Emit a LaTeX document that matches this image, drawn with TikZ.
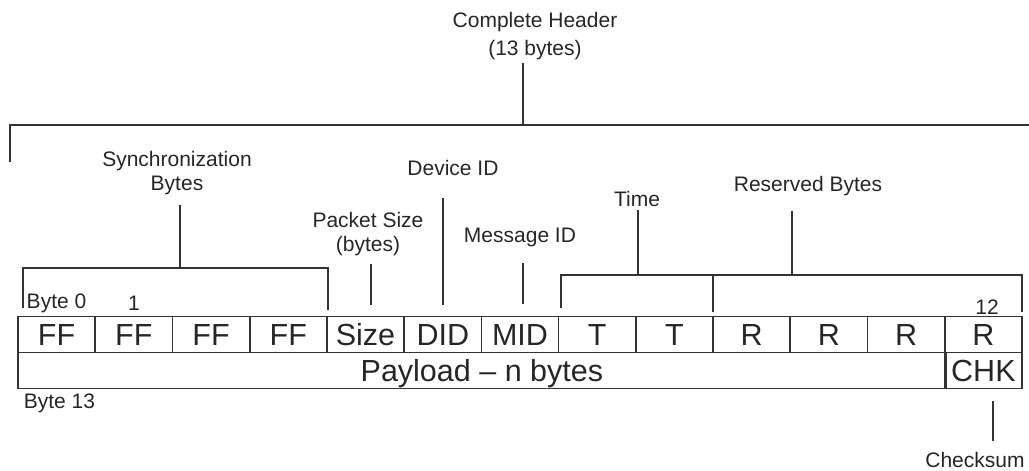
\documentclass[tikz,border=0pt]{standalone}
\usepackage{fontspec}
\setmainfont{Liberation Sans}
\begin{document}
\begin{tikzpicture}[x=1pt,y=-1pt,line width=1.5pt,draw=black!80,
  every node/.style={text=black!85},
  cell/.style={rectangle,draw,line width=1.6pt,minimum width=77.23pt,minimum height=36pt,inner sep=0pt,text height=21.5pt,text depth=0pt,font=\fontsize{30.5}{32}\selectfont},
  lbl/.style={align=center,inner sep=2pt,font=\fontsize{21}{24}\selectfont}]
  \useasboundingbox (0,0) rectangle (1029,471);
  % draw header row
  \node at(56.6,334.5)[cell](c0){FF};
  \node at(133.85,334.5)[cell](c1){FF};
  \node at(211.1,334.5)[cell](c2){FF};
  \node at(288.3,334.5)[cell](c3){FF};
  \node at(365.5,334.5)[cell](c4){Size};
  \node at(442.8,334.5)[cell](c5){DID};
  \node at(520.0,334.5)[cell](c6){MID};
  \node at(597.2,334.5)[cell](c7){T};
  \node at(674.5,334.5)[cell](c8){T};
  \node at(751.7,334.5)[cell](c9){R};
  \node at(828.9,334.5)[cell](c10){R};
  \node at(906.2,334.5)[cell](c11){R};
  \node at(983.4,334.5)[cell](c12){R};
  % draw payload row
  \node at(481.9,370.5)[cell,minimum width=927.8pt](payload){Payload -- n bytes};
  \node at(983.4,370.5)[cell](chk){CHK};
  % draw byte numbers
  \node at(24,303)[lbl,anchor=west](byte0){Byte 0};
  \node at(134,303)[lbl](byte1){1};
  \node at(987,307)[lbl](byte12){12};
  \node at(21,403)[lbl,anchor=west](byte13){Byte 13};
  % draw labels
  \node at(535,36)[lbl](hdr){Complete Header\\[4pt](13 bytes)};
  \node at(177,173)[lbl](sync){Synchronization\\Bytes};
  \node at(368,234)[lbl](size){Packet Size\\(bytes)};
  \node at(453,168)[lbl](did){Device ID};
  \node at(520,237)[lbl](mid){Message ID};
  \node at(637,199)[lbl](time){Time};
  \node at(808,186)[lbl](res){Reserved Bytes};
  \node at(975,460)[lbl](chksum){Checksum};
  % bracket points
  \coordinate (hdrL) at (10,162);
  \coordinate (hdrmid) at (523,125);
  \coordinate (hdrR) at (1029,125);
  \coordinate (syncL) at (23,308);
  \coordinate (syncmid) at (180,268);
  \coordinate (syncR) at (328,310);
  \coordinate (sizeend) at (371,305);
  \coordinate (didend) at (443,305);
  \coordinate (midend) at (523,304);
  \coordinate (timeL) at (561,308);
  \coordinate (timemid) at (638,275);
  \coordinate (timeR) at (713,312);
  \coordinate (resmid) at (792,275);
  \coordinate (resR) at (1022,312);
  \coordinate (chkx) at (993,420);
  % draw complete header bracket
  \draw (hdrL) |- (hdrR);
  \draw (hdr.south -| hdrmid) -- (hdrmid);
  % draw sync bracket
  \draw (syncL) |- (syncmid) -| (syncR);
  \draw [shorten <=7pt](sync.south -| syncmid) -- (syncmid);
  % draw single byte lines
  \draw [shorten <=5pt](size.south -| sizeend) -- (sizeend);
  \draw [shorten <=20pt](did.south -| didend) -- (didend);
  \draw [shorten <=14pt](mid.south -| midend) -- (midend);
  % draw time and reserved brackets
  \draw (timeL) |- (resmid) -| (resR);
  \draw (timeR) -- (timeR |- timemid);
  \draw [shorten <=1pt](time.south -| timemid) -- (timemid);
  \draw [shorten <=12pt](res.south -| resmid) -- (resmid);
  % draw checksum line
  \draw [shorten <=11.5pt,shorten >=9pt](chk.south -| chkx) -- (chksum.north -| chkx);
\end{tikzpicture}
\end{document}
